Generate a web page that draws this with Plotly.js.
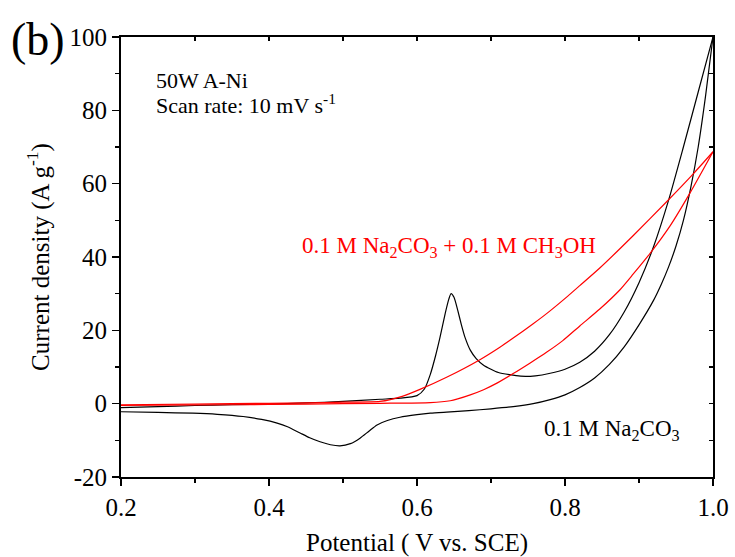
<!DOCTYPE html>
<html>
<head>
<meta charset="utf-8">
<script src="https://cdn.plot.ly/plotly-3.0.1.min.js"></script>
<style>html,body{margin:0;padding:0;background:#fff;}#chart{width:735px;height:557px;}</style>
</head>
<body>
<div id="chart"></div>
<script>
// 0.1 M Na2CO3 (black) - anodic sweep
var naFwdX = [0.20,0.25,0.30,0.35,0.40,0.45,0.50,0.55,0.577,0.60,0.61,0.618,0.625,0.631,0.638,0.643,0.646,0.650,0.655,0.660,0.665,0.672,0.680,0.690,0.700,0.710,0.725,0.740,0.760,0.780,0.800,0.820,0.840,0.860,0.880,0.900,0.920,0.940,0.960,0.980,1.000];
var naFwdY = [-1.1,-0.8,-0.5,-0.3,-0.1,0.2,0.6,1.2,1.5,2.2,4.0,8.0,13.0,18.0,24.5,28.5,30.0,29.0,25.5,21.5,18.0,14.6,12.3,10.5,9.4,8.5,7.9,7.5,7.6,8.3,9.4,11.3,14.3,18.8,25.0,33.0,43.0,55.5,70.0,85.0,100.0];
// 0.1 M Na2CO3 (black) - cathodic sweep
var naRevX = [1.000,0.990,0.980,0.970,0.960,0.950,0.940,0.930,0.920,0.900,0.880,0.860,0.840,0.820,0.800,0.780,0.757,0.730,0.700,0.670,0.640,0.618,0.600,0.577,0.560,0.546,0.535,0.523,0.510,0.496,0.483,0.469,0.455,0.442,0.425,0.411,0.390,0.365,0.330,0.297,0.250,0.200];
var naRevY = [100.0,84.0,70.0,59.0,50.0,43.0,37.3,32.5,28.3,21.5,15.5,10.7,7.0,4.4,2.4,1.1,0.0,-0.8,-1.4,-1.9,-2.3,-2.6,-3.0,-3.7,-4.6,-5.8,-7.5,-9.4,-10.9,-11.5,-11.2,-10.4,-9.3,-8.0,-6.3,-5.3,-4.3,-3.5,-2.9,-2.6,-2.4,-2.2];
// 0.1 M Na2CO3 + 0.1 M CH3OH (red)
var meUpX = [0.20,0.30,0.40,0.45,0.50,0.55,0.58,0.604,0.64,0.685,0.712,0.730,0.757,0.776,0.803,0.820,0.847,0.892,0.938,0.973,1.000];
var meUpY = [-0.3,-0.1,0.1,0.2,0.4,0.6,2.0,3.9,7.2,12.0,15.4,17.9,21.8,24.7,29.2,32.2,37.0,45.8,55.2,62.6,68.7];
var meLoX = [1.000,0.969,0.942,0.915,0.892,0.874,0.847,0.820,0.797,0.775,0.753,0.730,0.708,0.690,0.672,0.655,0.645,0.618,0.550,0.450,0.350,0.200];
var meLoY = [68.7,57.5,48.5,41.0,35.3,31.0,25.8,21.2,17.2,14.0,11.1,8.2,5.6,3.8,2.4,1.3,0.8,0.3,0.1,-0.1,-0.3,-0.5];

// tick labels
var xTickVals = [0.2,0.4,0.6,0.8,1.0];
var xTickText = ['0.2','0.4','0.6','0.8','1.0'];
var yTickVals = [-20,0,20,40,60,80,100];
var yTickText = ['-20','0','20','40','60','80','100'];

var FONT = "'Liberation Serif','Times New Roman',serif";

var traces = [
  {x: naFwdX, y: naFwdY, mode:'lines', line:{color:'#000000', width:1.2, shape:'spline', smoothing:0.6}, hoverinfo:'skip'},
  {x: naRevX, y: naRevY, mode:'lines', line:{color:'#000000', width:1.2, shape:'spline', smoothing:0.6}, hoverinfo:'skip'},
  {x: meUpX, y: meUpY, mode:'lines', line:{color:'#ff0000', width:1.2, shape:'spline', smoothing:0.6}, hoverinfo:'skip'},
  {x: meLoX, y: meLoY, mode:'lines', line:{color:'#ff0000', width:1.2, shape:'spline', smoothing:0.6}, hoverinfo:'skip'},
  {x: [], y: [], xaxis:'x2', yaxis:'y2', hoverinfo:'skip'}
];

var layout = {
  width:735, height:557,
  margin:{l:121, r:22, t:37, b:80},
  paper_bgcolor:'#ffffff', plot_bgcolor:'#ffffff',
  showlegend:false,
  font:{family:FONT, color:'#000000', size:25},
  xaxis:{
    range:[0.2,1.0], tickmode:'array', tickvals:xTickVals, ticktext:xTickText,
    ticks:'outside', ticklen:7, tickwidth:1.5, tickcolor:'#000',
    minor:{dtick:0.1, tick0:0.2, ticks:'outside', ticklen:4, tickwidth:1.5, tickcolor:'#000', showgrid:false},
    showline:true, linecolor:'#000', linewidth:2, showgrid:false, zeroline:false,
    tickfont:{family:FONT, size:25},
    title:{text:'Potential ( V vs. SCE)', font:{family:FONT, size:25}, standoff:16}
  },
  yaxis:{
    range:[-20,100], tickmode:'array', tickvals:yTickVals, ticktext:yTickText,
    ticks:'outside', ticklen:7, tickwidth:1.5, tickcolor:'#000',
    minor:{dtick:10, tick0:-20, ticks:'outside', ticklen:4, tickwidth:1.5, tickcolor:'#000', showgrid:false},
    showline:true, linecolor:'#000', linewidth:2, showgrid:false, zeroline:false,
    tickfont:{family:FONT, size:25},
    title:{text:'Current density (A g<sup>-1</sup>)', font:{family:FONT, size:25}, standoff:13}
  },
  xaxis2:{
    range:[0.2,1.0], overlaying:'x', side:'top', anchor:'y2', dtick:0.1, tick0:0.2,
    ticks:'inside', ticklen:4, tickwidth:1.2, tickcolor:'#000',
    showticklabels:false, showline:true, linecolor:'#000', linewidth:2, showgrid:false, zeroline:false
  },
  yaxis2:{
    range:[-20,100], overlaying:'y', side:'right', anchor:'x2', dtick:10, tick0:-20,
    ticks:'inside', ticklen:4, tickwidth:1.2, tickcolor:'#000',
    showticklabels:false, showline:true, linecolor:'#000', linewidth:2, showgrid:false, zeroline:false
  },
  annotations:[
    {text:'(b)', xref:'paper', yref:'paper', x:-0.19, y:0.995, xanchor:'left', yanchor:'middle', showarrow:false, font:{family:FONT, size:46, color:'#000'}},
    {text:'50W A-Ni', xref:'x', yref:'y', x:0.244, y:88.2, xanchor:'left', yanchor:'middle', showarrow:false, font:{family:FONT, size:22, color:'#000'}},
    {text:'Scan rate: 10 mV s<sup>-1</sup>', xref:'x', yref:'y', x:0.244, y:81.6, xanchor:'left', yanchor:'middle', showarrow:false, font:{family:FONT, size:22, color:'#000'}},
    {text:'0.1 M Na<sub>2</sub>CO<sub>3</sub> + 0.1 M CH<sub>3</sub>OH', xref:'x', yref:'y', x:0.442, y:42.6, xanchor:'left', yanchor:'middle', showarrow:false, font:{family:FONT, size:23, color:'#ff0000'}},
    {text:'0.1 M Na<sub>2</sub>CO<sub>3</sub>', xref:'x', yref:'y', x:0.769, y:-7.2, xanchor:'left', yanchor:'middle', showarrow:false, font:{family:FONT, size:23, color:'#000'}}
  ]
};

Plotly.newPlot('chart', traces, layout, {staticPlot:true, displayModeBar:false});
</script>
</body>
</html>
